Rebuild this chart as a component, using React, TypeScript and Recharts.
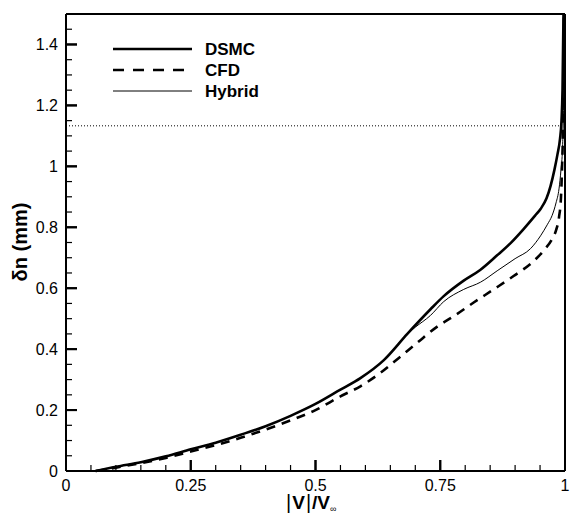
import React from "react";
import { LineChart, Line, XAxis, YAxis, ReferenceLine } from "recharts";

const dsmcV = [0.059, 0.10, 0.15, 0.20, 0.25, 0.30, 0.35, 0.40, 0.45, 0.50, 0.55, 0.59, 0.637, 0.684, 0.73, 0.757, 0.797, 0.83, 0.864, 0.891, 0.917, 0.94, 0.951, 0.963, 0.971, 0.979, 0.985, 0.990, 0.993, 0.995, 0.997];
const dsmcN = [0, 0.014, 0.029, 0.048, 0.071, 0.093, 0.119, 0.147, 0.181, 0.22, 0.267, 0.305, 0.364, 0.45, 0.53, 0.574, 0.625, 0.66, 0.708, 0.748, 0.794, 0.838, 0.86, 0.895, 0.935, 0.99, 1.04, 1.09, 1.15, 1.25, 1.5];

const hybridV = [0.059, 0.10, 0.15, 0.20, 0.25, 0.30, 0.35, 0.40, 0.45, 0.50, 0.55, 0.59, 0.637, 0.684, 0.70, 0.73, 0.757, 0.797, 0.831, 0.864, 0.90, 0.931, 0.951, 0.965, 0.974, 0.982, 0.988, 0.992, 0.995, 0.997, 0.998];
const hybridN = [0, 0.014, 0.029, 0.048, 0.071, 0.093, 0.119, 0.147, 0.181, 0.22, 0.267, 0.305, 0.364, 0.45, 0.472, 0.51, 0.556, 0.596, 0.62, 0.657, 0.697, 0.73, 0.772, 0.81, 0.838, 0.88, 0.926, 0.99, 1.06, 1.2, 1.5];

const cfdV = [0.06, 0.10, 0.15, 0.20, 0.25, 0.30, 0.35, 0.40, 0.45, 0.50, 0.55, 0.59, 0.63, 0.667, 0.704, 0.744, 0.777, 0.817, 0.857, 0.897, 0.938, 0.958, 0.974, 0.982, 0.988, 0.992, 0.994, 0.996, 0.998];
const cfdN = [0, 0.011, 0.026, 0.043, 0.064, 0.085, 0.109, 0.136, 0.166, 0.2, 0.245, 0.278, 0.322, 0.371, 0.421, 0.474, 0.508, 0.553, 0.596, 0.64, 0.69, 0.725, 0.761, 0.79, 0.833, 0.9, 0.992, 1.133, 1.5];

const xMinorTicks = [0, 0.05, 0.1, 0.15, 0.2, 0.25, 0.3, 0.35, 0.4, 0.45, 0.5, 0.55, 0.6, 0.65, 0.7, 0.75, 0.8, 0.85, 0.9, 0.95, 1];
const xMajor = [0, 0.25, 0.5, 0.75, 1];
const xMajorLabels = ["0", "0.25", "0.5", "0.75", "1"];
const yMinorTicks = [0, 0.05, 0.1, 0.15, 0.2, 0.25, 0.3, 0.35, 0.4, 0.45, 0.5, 0.55, 0.6, 0.65, 0.7, 0.75, 0.8, 0.85, 0.9, 0.95, 1, 1.05, 1.1, 1.15, 1.2, 1.25, 1.3, 1.35, 1.4, 1.45];
const yMajor = [0, 0.2, 0.4, 0.6, 0.8, 1, 1.2, 1.4];
const yMajorLabels = ["0", "0.2", "0.4", "0.6", "0.8", "1", "1.2", "1.4"];

const dottedLevel = 1.133;

const seriesNames = ["DSMC", "CFD", "Hybrid"];

const X_DOMAIN: [number, number] = [0, 1];
const Y_DOMAIN: [number, number] = [0, 1.5];

// chart layout
const CHART_W = 570;
const CHART_H = 515;
const MARGIN = { top: 14, right: 5, bottom: 0, left: 0 };
const Y_AXIS_W = 66;
const X_AXIS_H = 44;
const PLOT_L = MARGIN.left + Y_AXIS_W;
const PLOT_R = CHART_W - MARGIN.right;
const PLOT_T = MARGIN.top;
const PLOT_B = CHART_H - MARGIN.bottom - X_AXIS_H;
const px = (v: number) => PLOT_L + ((v - X_DOMAIN[0]) / (X_DOMAIN[1] - X_DOMAIN[0])) * (PLOT_R - PLOT_L);
const py = (v: number) => PLOT_B - ((v - Y_DOMAIN[0]) / (Y_DOMAIN[1] - Y_DOMAIN[0])) * (PLOT_B - PLOT_T);

const toPts = (v: number[], n: number[]) => v.map((x, i) => ({ x, y: n[i] }));
const dsmcData = toPts(dsmcV, dsmcN);
const cfdData = toPts(cfdV, cfdN);
const hybridData = toPts(hybridV, hybridN);

const FONT = "'Liberation Sans', Arial, Helvetica, sans-serif";
const near = (a: number, b: number) => Math.abs(a - b) < 1e-6;
const isXMajor = (v: number) => xMajor.some((m) => near(m, v));
const isYMajor = (v: number) => yMajor.some((m) => near(m, v));

const XTickLabel = (props: any) => {
  const { x, y, payload } = props;
  const idx = xMajor.findIndex((m) => near(m, payload.value));
  if (idx < 0) return <g />;
  return (
    <text x={x} y={y + 31} textAnchor="middle" fontFamily={FONT} fontSize={16} fill="#000">
      {xMajorLabels[idx]}
    </text>
  );
};

const YTickLabel = (props: any) => {
  const { x, y, payload } = props;
  const idx = yMajor.findIndex((m) => near(m, payload.value));
  if (idx < 0) return <g />;
  return (
    <text x={x - 19} y={y} dy="0.36em" textAnchor="end" fontFamily={FONT} fontSize={16} fill="#000">
      {yMajorLabels[idx]}
    </text>
  );
};

const legendStyles = [
  { w: 2.6, dash: undefined as string | undefined },
  { w: 2.6, dash: "11 9" },
  { w: 1, dash: undefined as string | undefined },
];

const Overlay = () => (
  <svg width={CHART_W} height={CHART_H} style={{ position: "absolute", left: 0, top: 0, pointerEvents: "none" }}>
    {/* inward tick marks on the left and bottom axes */}
    {xMinorTicks.map((v) => {
      const len = isXMajor(v) ? 11 : 6;
      return <rect key={"xt" + v} x={px(v) - (isXMajor(v) ? 1 : 0.6)} y={PLOT_B - len} width={isXMajor(v) ? 2 : 1.2} height={len} fill="#000" />;
    })}
    {yMinorTicks.map((v) => {
      const len = isYMajor(v) ? 11 : 6;
      return <rect key={"yt" + v} x={PLOT_L} y={py(v) - (isYMajor(v) ? 1 : 0.6)} width={len} height={isYMajor(v) ? 2 : 1.2} fill="#000" />;
    })}
    {seriesNames.map((name, i) => {
      const cy = 49 + i * 21;
      return (
        <g key={name}>
          <line x1={113} x2={192} y1={cy} y2={cy} stroke="#000" strokeWidth={legendStyles[i].w} strokeDasharray={legendStyles[i].dash} />
          <text x={205} y={cy + 6} fontFamily={FONT} fontWeight="bold" fontSize={17} fill="#000">
            {name}
          </text>
        </g>
      );
    })}
    <text x={286} y={509} fontFamily={FONT} fill="#000">
      <tspan fontSize={20} fontWeight="normal">|</tspan>
      <tspan fontSize={19} fontWeight="bold" dx={1}>V</tspan>
      <tspan fontSize={20} fontWeight="normal" dx={1}>|</tspan>
      <tspan fontSize={19} fontWeight="bold" dx={1}>/V</tspan>
      <tspan fontSize={9} fontWeight="normal" dy={3}>∞</tspan>
    </text>
    <text x={27} y={242} transform="rotate(-90 27 242)" textAnchor="middle" fontFamily={FONT} fontWeight="bold" fontSize={20} fill="#000">
      δn (mm)
    </text>
  </svg>
);

export default function App() {
  return (
    <div style={{ position: "absolute", left: 0, top: 0, width: CHART_W, height: CHART_H, background: "#fff" }}>
      <LineChart width={CHART_W} height={CHART_H} margin={MARGIN}>
        <XAxis
          dataKey="x"
          type="number"
          domain={X_DOMAIN}
          ticks={xMajor}
          interval={0}
          height={X_AXIS_H}
          tickSize={-11}
          tickMargin={0}
          tickLine={{ stroke: "#000", strokeWidth: 2 }}
          axisLine={{ stroke: "#000", strokeWidth: 2 }}
          tick={<XTickLabel />}
        />
        <YAxis
          dataKey="y"
          type="number"
          domain={Y_DOMAIN}
          ticks={yMajor}
          interval={0}
          width={Y_AXIS_W}
          tickSize={-11}
          tickMargin={0}
          tickLine={{ stroke: "#000", strokeWidth: 2 }}
          axisLine={{ stroke: "#000", strokeWidth: 2 }}
          tick={<YTickLabel />}
        />
        <ReferenceLine y={dottedLevel} stroke="#000" strokeWidth={1} strokeDasharray="1 2" />
        <ReferenceLine y={Y_DOMAIN[1]} stroke="#000" strokeWidth={2} />
        <ReferenceLine x={X_DOMAIN[1]} stroke="#000" strokeWidth={2} />
        <Line data={cfdData} dataKey="y" type="monotone" stroke="#000" strokeWidth={2.6} strokeDasharray="9 7" dot={false} isAnimationActive={false} name={seriesNames[1]} />
        <Line data={hybridData} dataKey="y" type="monotone" stroke="#000" strokeWidth={1} dot={false} isAnimationActive={false} name={seriesNames[2]} />
        <Line data={dsmcData} dataKey="y" type="monotone" stroke="#000" strokeWidth={2.6} dot={false} isAnimationActive={false} name={seriesNames[0]} />
      </LineChart>
      <Overlay />
    </div>
  );
}
